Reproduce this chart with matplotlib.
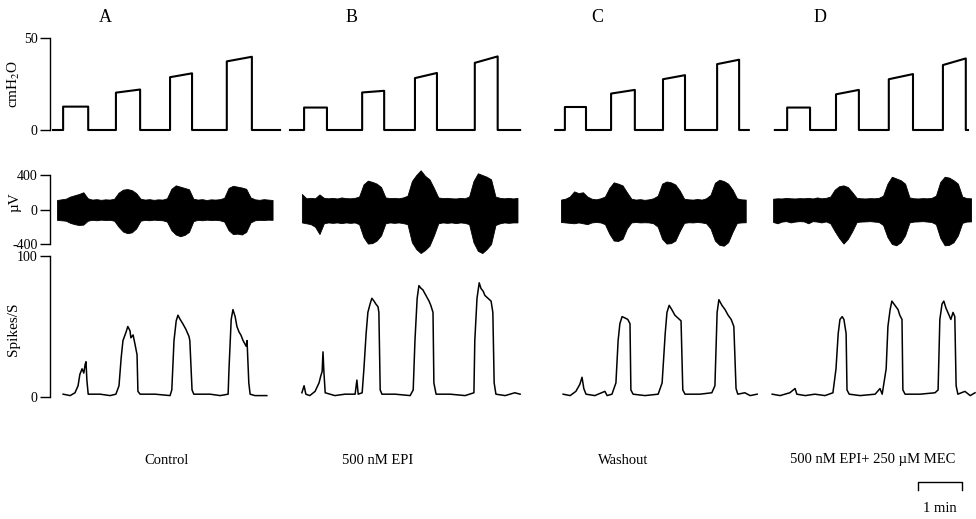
"""Respiratory recordings: tracheal pressure, raw nerve activity and firing rate
for four conditions, drawn on a shared time base (minutes)."""
import matplotlib

matplotlib.use("Agg")
import matplotlib.pyplot as plt
import numpy as np

plt.rcParams["font.family"] = ["Liberation Serif", "DejaVu Serif"]
plt.rcParams["mathtext.fontset"] = "stix"
plt.rcParams["axes.unicode_minus"] = False

PANELS = ["A", "B", "C", "D"]
CONDITIONS = ["Control", "500 nM EPI", "Washout", "500 nM EPI+ 250 µM MEC"]

# ---- pressure steps (cmH2O), times in minutes from the start of each panel
PRESSURE_START = [0.0, 0.0, 0.05, 0.11]
PRESSURE_END = [5.16, 5.23, 4.45, 4.50]
STEP_ON = [
    [0.23, 1.43, 2.66, 3.95],
    [0.32, 1.64, 2.84, 4.20],
    [0.27, 1.32, 2.50, 3.73],
    [0.39, 1.50, 2.70, 3.93],
]
STEP_OFF = [
    [0.80, 1.98, 3.16, 4.52],
    [0.84, 2.14, 3.34, 4.72],
    [0.75, 1.86, 3.00, 4.23],
    [0.91, 2.02, 3.25, 4.45],
]
LEVEL_START = [
    [12.7, 20.3, 28.7, 37.3],
    [12.2, 20.4, 28.2, 36.5],
    [12.5, 19.8, 27.6, 35.8],
    [12.2, 19.4, 27.6, 35.3],
]
LEVEL_END = [
    [12.7, 22.0, 30.8, 39.8],
    [12.2, 21.3, 31.0, 40.0],
    [12.5, 21.8, 29.8, 38.2],
    [12.2, 21.8, 30.4, 38.9],
]

# ---- nerve activity envelope (µV), one sample every 0.1 min
NERVE_DT = 0.1
NERVE_T0 = [0.09, 0.27, 0.18, 0.07]
NERVE_UPPER = [
    [110, 118, 125, 150, 165, 180, 200, 130, 115, 120, 112, 118, 115, 125, 195,
     230, 237, 225, 190, 125, 115, 120, 112, 118, 115, 130, 240, 280, 265, 250,
     235, 125, 115, 120, 110, 118, 115, 120, 135, 250, 275, 265, 255, 240, 140,
     118, 112, 120, 115, 110],
    [180, 130, 135, 130, 175, 135, 130, 135, 128, 140, 132, 130, 135, 150, 290,
     335, 320, 300, 260, 140, 132, 135, 130, 140, 160, 330, 400, 455, 390, 350,
     250, 140, 132, 135, 130, 128, 135, 130, 150, 330, 420, 400, 380, 350, 150,
     135, 130, 135, 128, 135],
    [115, 125, 150, 210, 190, 200, 150, 125, 118, 130, 150, 250, 315, 300, 280,
     200, 125, 115, 120, 112, 118, 130, 160, 300, 325, 315, 290, 220, 125, 118,
     115, 122, 115, 130, 170, 310, 345, 330, 300, 230, 130, 118, 115],
    [125, 130, 128, 135, 130, 128, 132, 130, 135, 128, 140, 130, 135, 150, 230,
     270, 280, 260, 200, 135, 130, 128, 132, 130, 135, 160, 300, 380, 360, 340,
     300, 140, 130, 128, 132, 130, 135, 160, 320, 380, 370, 340, 300, 150, 132,
     130],
]
NERVE_LOWER = [
    [-120, -125, -130, -155, -170, -180, -175, -130, -120, -125, -118, -122,
     -120, -130, -200, -255, -275, -265, -220, -130, -120, -125, -118, -122,
     -125, -140, -240, -290, -310, -295, -260, -135, -120, -125, -118, -122,
     -120, -125, -140, -240, -285, -280, -290, -260, -150, -125, -120, -122,
     -118, -120],
    [-150, -160, -170, -200, -285, -160, -150, -155, -150, -158, -150, -155,
     -150, -170, -320, -395, -390, -360, -300, -160, -150, -155, -150, -158,
     -170, -380, -460, -505, -470, -420, -300, -160, -150, -155, -150, -158,
     -150, -155, -170, -380, -480, -505, -460, -400, -180, -160, -150, -155,
     -150, -150],
    [-145, -150, -155, -160, -150, -160, -170, -150, -145, -150, -170, -280,
     -360, -365, -340, -220, -150, -145, -150, -148, -150, -160, -200, -340,
     -395, -390, -360, -250, -155, -148, -150, -145, -150, -160, -220, -360,
     -410, -420, -380, -260, -155, -150, -148],
    [-145, -160, -140, -135, -150, -140, -135, -138, -160, -135, -140, -150,
     -138, -160, -250, -330, -395, -340, -250, -145, -140, -138, -135, -140,
     -145, -180, -320, -400, -415, -380, -300, -150, -140, -138, -135, -140,
     -145, -170, -330, -415, -410, -380, -300, -155, -140, -138],
]

# ---- integrated firing rate (spikes/s)
SPIKE_T = [
    [0.23, 0.39, 0.50, 0.57, 0.61, 0.66, 0.70, 0.73, 0.75, 0.77, 0.80, 1.07,
     1.30, 1.43, 1.50, 1.55, 1.59, 1.66, 1.70, 1.75, 1.77, 1.82, 1.86, 1.91,
     1.93, 1.98, 2.32, 2.66, 2.70, 2.75, 2.80, 2.84, 2.89, 2.95, 3.02, 3.09,
     3.11, 3.16, 3.20, 3.57, 3.80, 3.98, 4.00, 4.05, 4.09, 4.14, 4.18, 4.23,
     4.27, 4.32, 4.39, 4.41, 4.45, 4.48, 4.59, 4.86],
    [0.27, 0.32, 0.36, 0.45, 0.57, 0.66, 0.70, 0.73, 0.75, 0.77, 0.80, 1.02,
     1.25, 1.48, 1.52, 1.55, 1.64, 1.68, 1.73, 1.77, 1.82, 1.86, 1.91, 1.95,
     2.00, 2.02, 2.05, 2.09, 2.39, 2.73, 2.80, 2.84, 2.89, 2.93, 2.98, 3.02,
     3.09, 3.16, 3.20, 3.25, 3.27, 3.32, 3.64, 3.98, 4.18, 4.20, 4.25, 4.30,
     4.34, 4.39, 4.43, 4.50, 4.57, 4.61, 4.64, 4.68, 4.89, 5.11, 5.23],
    [0.23, 0.39, 0.52, 0.61, 0.66, 0.70, 0.75, 0.95, 1.18, 1.23, 1.34, 1.43,
     1.48, 1.52, 1.57, 1.64, 1.70, 1.75, 1.77, 1.82, 2.09, 2.39, 2.48, 2.55,
     2.59, 2.64, 2.70, 2.77, 2.84, 2.91, 2.95, 3.00, 3.34, 3.61, 3.68, 3.73,
     3.77, 3.84, 3.91, 3.98, 4.05, 4.11, 4.16, 4.20, 4.36, 4.48, 4.64],
    [0.05, 0.23, 0.45, 0.57, 0.61, 0.80, 1.02, 1.25, 1.43, 1.50, 1.55, 1.59,
     1.64, 1.68, 1.73, 1.75, 1.80, 2.05, 2.39, 2.50, 2.55, 2.64, 2.68, 2.73,
     2.77, 2.84, 2.91, 2.95, 3.00, 3.02, 3.07, 3.41, 3.75, 3.82, 3.86, 3.91,
     3.95, 4.00, 4.07, 4.11, 4.16, 4.20, 4.23, 4.27, 4.43, 4.55, 4.66],
]
SPIKE_RATE = [
    [2, 1, 3, 8, 16, 20, 17, 23, 25, 12, 2, 2, 1, 2, 8, 28, 40, 46, 50, 47,
     42, 44, 38, 30, 4, 2, 2, 1, 5, 40, 54, 58, 55, 52, 48, 43, 40, 5, 2, 2,
     1, 2, 20, 55, 62, 57, 50, 46, 44, 40, 36, 40, 10, 2, 1, 1],
    [3, 8, 2, 1, 4, 10, 15, 18, 32, 18, 3, 1, 2, 2, 12, 2, 3, 20, 45, 60, 66,
     70, 68, 66, 64, 60, 5, 2, 2, 1, 5, 40, 70, 79, 77, 76, 72, 68, 65, 60,
     10, 2, 2, 1, 3, 40, 70, 81, 77, 75, 72, 70, 68, 60, 10, 2, 1, 3, 2],
    [2, 1, 4, 9, 14, 6, 2, 1, 4, 1, 2, 10, 40, 52, 57, 56, 55, 52, 5, 2, 1,
     2, 10, 45, 60, 65, 62, 58, 56, 54, 5, 2, 2, 3, 8, 60, 69, 65, 62, 58, 55,
     50, 6, 2, 3, 1, 2],
    [2, 1, 3, 6, 2, 1, 2, 1, 3, 20, 45, 55, 57, 55, 45, 5, 2, 1, 2, 6, 2, 20,
     50, 62, 68, 65, 62, 58, 55, 5, 2, 2, 3, 5, 55, 66, 68, 63, 58, 55, 60, 57,
     8, 2, 4, 1, 3],
]

# ---- layout (pixels of a 976 x 519 canvas)
W, H = 976, 519
PX_PER_MIN = 44.0
AXIS_X = 50
PANEL_ORIGIN_PX = [53, 290, 553, 770]
LETTER_X = [105, 352, 597, 820]
CONDITION_X = [167, 378, 623, 873]


def add_px_axes(fig, top, bottom):
    ax = fig.add_axes([AXIS_X / W, 1 - bottom / H, (W - AXIS_X) / W, (bottom - top) / H])
    ax.set_xlim(0, (W - AXIS_X) / PX_PER_MIN)
    ax.patch.set_alpha(0)
    for side in ("top", "right", "bottom"):
        ax.spines[side].set_visible(False)
    ax.spines["left"].set_linewidth(1.0)
    ax.set_xticks([])
    ax.tick_params(axis="y", length=7, width=1.0, pad=2, labelsize=10)
    return ax


def pressure_trace(i):
    xs, ys = [PRESSURE_START[i]], [0.0]
    for on, off, lo, hi in zip(STEP_ON[i], STEP_OFF[i], LEVEL_START[i], LEVEL_END[i]):
        xs += [on, on, off, off]
        ys += [0.0, lo, hi, 0.0]
    xs.append(PRESSURE_END[i])
    ys.append(0.0)
    return np.array(xs), np.array(ys)


fig = plt.figure(figsize=(W / 100, H / 100), dpi=100)

ax_p = add_px_axes(fig, 38, 130)
ax_n = add_px_axes(fig, 175, 244)
ax_s = add_px_axes(fig, 256, 397)

ax_p.set_ylim(0, 50)
ax_p.set_yticks([0, 50])
ax_n.set_ylim(-400, 400)
ax_n.set_yticks([-400, 0, 400])
ax_s.set_ylim(0, 100)
ax_s.set_yticks([0, 100])

ax_p.set_ylabel("cmH$_2$O", fontsize=11)
ax_p.yaxis.set_label_coords(-28 / (W - AXIS_X), 0.5)
ax_n.set_ylabel("µV", fontsize=11)
ax_n.yaxis.set_label_coords(-28 / (W - AXIS_X), 0.6)
ax_s.set_ylabel("Spikes/S", fontsize=11)
ax_s.yaxis.set_label_coords(-30 / (W - AXIS_X), 0.48)

for i in range(4):
    offset = (PANEL_ORIGIN_PX[i] - AXIS_X) / PX_PER_MIN

    px, py = pressure_trace(i)
    ax_p.plot(px + offset, py, color="black", lw=1.5, clip_on=False)

    up = np.array(NERVE_UPPER[i])
    lo = np.array(NERVE_LOWER[i])
    nt = NERVE_T0[i] + NERVE_DT * np.arange(len(up)) + offset
    ax_n.fill_between(nt, lo, up, color="black", lw=0.6, edgecolor="black", clip_on=False)

    ax_s.plot(np.array(SPIKE_T[i]) + offset, SPIKE_RATE[i], color="black", lw=1.1, clip_on=False)

    fig.text(LETTER_X[i] / W, 1 - 18 / H, PANELS[i], ha="center", va="center", fontsize=13)
    fig.text(CONDITION_X[i] / W, 1 - 460 / H, CONDITIONS[i], ha="center", va="center", fontsize=10.5)

# 1-minute scale bar
ax_bar = fig.add_axes([AXIS_X / W, 0, (W - AXIS_X) / W, 60 / H])
ax_bar.set_xlim(0, (W - AXIS_X) / PX_PER_MIN)
ax_bar.set_ylim(0, 60)
ax_bar.axis("off")
bar_x0 = (918 - AXIS_X) / PX_PER_MIN
ax_bar.plot([bar_x0, bar_x0, bar_x0 + 1, bar_x0 + 1], [29, 37, 37, 29], color="black", lw=1.0)
ax_bar.text(bar_x0 + 0.5, 11, "1 min", ha="center", va="center", fontsize=10.5)

fig.savefig("out.png", dpi=100)
